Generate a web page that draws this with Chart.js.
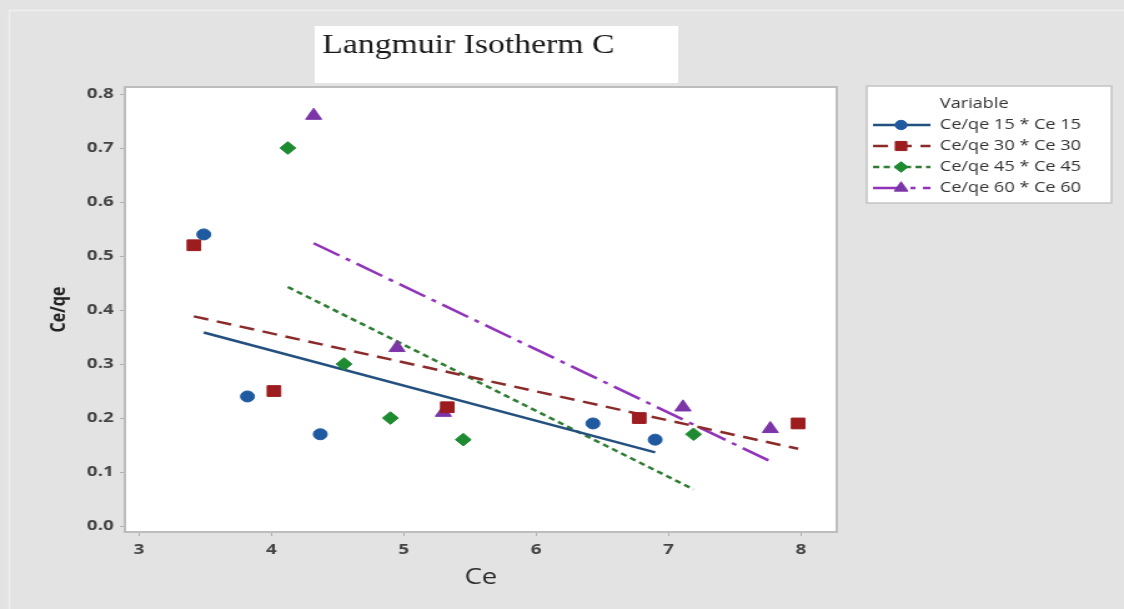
<!DOCTYPE html>
<html>
<head>
<meta charset="utf-8">
<script src="https://cdn.jsdelivr.net/npm/chart.js@4.4.1/dist/chart.umd.min.js"></script>
<style>
  html, body { margin: 0; padding: 0; background: #e3e3e3; overflow: hidden; }
  #wrap { width: 900px; height: 609px; transform: scaleX(1.24889); transform-origin: 0 0; }
</style>
</head>
<body>
<div id="wrap"><canvas id="c" width="900" height="609"></canvas></div>
<script>
// Tick positions
const xTicks = [3, 4, 5, 6, 7, 8];
const yTicks = [0, 0.1, 0.2, 0.3, 0.4, 0.5, 0.6, 0.7, 0.8];

// Series names
const seriesNames = ['Ce/qe 15 * Ce 15', 'Ce/qe 30 * Ce 30', 'Ce/qe 45 * Ce 45', 'Ce/qe 60 * Ce 60'];

// Ce (x) and Ce/qe (y) for each contact time
const ce15 = [3.49, 3.82, 4.37, 6.43, 6.90];
const ratio15 = [0.54, 0.24, 0.17, 0.19, 0.16];
const ce30 = [3.415, 4.02, 5.33, 6.78, 7.98];
const ratio30 = [0.52, 0.25, 0.22, 0.20, 0.19];
const ce45 = [4.125, 4.55, 4.90, 5.45, 7.19];
const ratio45 = [0.70, 0.30, 0.20, 0.16, 0.17];
const ce60 = [4.32, 4.95, 5.30, 7.11, 7.77];
const ratio60 = [0.76, 0.33, 0.21, 0.22, 0.18];

const styles = [
  { marker: '#1f5aa0', line: '#23507e', shape: 'circle', r: 5.5, dash: [] },
  { marker: '#9c1c1f', line: '#8b2a2a', shape: 'rect', r: 7.6, dash: [12, 7] },
  { marker: '#1e8b30', line: '#2e7d32', shape: 'rectRot', r: 6.3, dash: [5, 3.5] },
  { marker: '#7b35a8', line: '#9033b8', shape: 'triangle', r: 7.4, dash: [24, 6, 4, 6] }
];

// Least-squares straight line through a series, spanning its Ce range
function fitLine(xs, ys) {
  const n = xs.length;
  const mx = xs.reduce((a, b) => a + b, 0) / n;
  const my = ys.reduce((a, b) => a + b, 0) / n;
  let sxy = 0, sxx = 0;
  for (let i = 0; i < n; i++) { sxy += (xs[i] - mx) * (ys[i] - my); sxx += (xs[i] - mx) ** 2; }
  const b = sxy / sxx, a = my - b * mx;
  const x0 = Math.min(...xs), x1 = Math.max(...xs);
  return [{ x: x0, y: a + b * x0 }, { x: x1, y: a + b * x1 }];
}

const xs = [ce15, ce30, ce45, ce60];
const ys = [ratio15, ratio30, ratio45, ratio60];

const datasets = [];
xs.forEach((cx, k) => {
  datasets.push({
    label: seriesNames[k] + ' fit',
    data: fitLine(cx, ys[k]),
    showLine: true,
    borderColor: styles[k].line,
    borderWidth: 2.5,
    borderDash: styles[k].dash,
    pointRadius: 0,
    order: 2
  });
});
xs.forEach((cx, k) => {
  datasets.push({
    label: seriesNames[k],
    data: cx.map((x, i) => ({ x: x, y: ys[k][i] })),
    showLine: false,
    pointStyle: styles[k].shape,
    pointRadius: styles[k].r,
    backgroundColor: styles[k].marker,
    borderColor: styles[k].marker,
    borderWidth: 1,
    order: 1
  });
});

const tickFont = { family: 'Open Sans', size: 15, weight: 'bold' };

const backdrop = {
  id: 'backdrop',
  beforeDraw(chart) {
    const { ctx, chartArea: a } = chart;
    ctx.save();
    ctx.fillStyle = '#e3e3e3';
    ctx.fillRect(0, 0, chart.width, chart.height);
    ctx.strokeStyle = '#efefef';
    ctx.lineWidth = 1.5;
    ctx.strokeRect(7.5, 10.5, chart.width + 10, chart.height + 10);
    ctx.fillStyle = '#ffffff';
    ctx.fillRect(a.left, a.top, a.right - a.left, a.bottom - a.top);
    // title panel
    ctx.fillRect(252, 26, 291, 57);
    ctx.fillStyle = '#1a1a1a';
    ctx.font = '27px "Liberation Serif"';
    ctx.textBaseline = 'alphabetic';
    ctx.textAlign = 'left';
    ctx.fillText('Langmuir Isotherm C', 258, 53);
    ctx.restore();
  },
  beforeDatasetsDraw(chart) {
    const { ctx, chartArea: a } = chart;
    ctx.save();
    ctx.strokeStyle = '#bdbdbd';
    ctx.lineWidth = 2;
    ctx.strokeRect(a.left, a.top, a.right - a.left, a.bottom - a.top);
    ctx.restore();
  }
};

const legendBox = {
  id: 'legendBox',
  afterDraw(chart) {
    const ctx = chart.ctx;
    ctx.save();
    ctx.fillStyle = '#ffffff';
    ctx.fillRect(694, 86, 196, 117);
    ctx.strokeStyle = '#c4c4c4';
    ctx.lineWidth = 1.5;
    ctx.strokeRect(694, 86, 196, 117);
    ctx.fillStyle = '#333333';
    ctx.font = '14.5px "Open Sans"';
    ctx.textBaseline = 'middle';
    ctx.textAlign = 'left';
    ctx.fillText('Variable', 752.5, 104);
    const rows = [125, 146, 167, 188];
    rows.forEach((y, k) => {
      const s = styles[k];
      ctx.strokeStyle = s.line;
      ctx.lineWidth = 2.4;
      ctx.setLineDash(s.dash);
      ctx.beginPath();
      ctx.moveTo(699, y);
      ctx.lineTo(745, y);
      ctx.stroke();
      ctx.setLineDash([]);
      ctx.fillStyle = s.marker;
      ctx.strokeStyle = s.marker;
      ctx.lineWidth = 1;
      Chart.helpers.drawPoint(ctx, { pointStyle: s.shape, radius: s.r * 0.85, rotation: 0, borderWidth: 1 }, 721.5, y);
      ctx.fillStyle = '#333333';
      ctx.fillText(seriesNames[k], 752.5, y);
    });
    ctx.restore();
  }
};

new Chart(document.getElementById('c'), {
  type: 'scatter',
  data: { datasets: datasets },
  options: {
    responsive: false,
    animation: false,
    devicePixelRatio: 1,
    layout: { padding: { top: 87, right: 230, bottom: 0, left: 0 } },
    plugins: { legend: { display: false }, tooltip: { enabled: false }, title: { display: false } },
    scales: {
      x: {
        type: 'linear',
        min: 2.894,
        max: 8.272,
        afterBuildTicks: s => { s.ticks = xTicks.map(v => ({ value: v })); },
        afterFit: s => { s.height = 77; },
        ticks: { font: tickFont, color: '#444444', padding: 5, autoSkip: false, maxRotation: 0, callback: v => String(v) },
        grid: { drawOnChartArea: false, drawTicks: true, tickLength: 4, color: '#b0b0b0' },
        border: { display: false },
        title: { display: true, text: 'Ce', color: '#2a2a2a', font: { family: 'Open Sans', size: 22, weight: '500' }, padding: { top: 0, bottom: 18 } }
      },
      y: {
        type: 'linear',
        min: -0.011,
        max: 0.813,
        afterBuildTicks: s => { s.ticks = yTicks.map(v => ({ value: v })); },
        afterFit: s => { s.width = 100; },
        ticks: { font: tickFont, color: '#444444', padding: 5, autoSkip: false, callback: v => v.toFixed(1) },
        grid: { drawOnChartArea: false, drawTicks: true, tickLength: 4, color: '#b0b0b0' },
        border: { display: false },
        title: { display: true, text: 'Ce/qe', color: '#222222', font: { family: 'Open Sans', size: 16, weight: 'bold' }, padding: { top: 37.5, bottom: 0 } }
      }
    }
  },
  plugins: [backdrop, legendBox]
});
</script>
</body>
</html>
